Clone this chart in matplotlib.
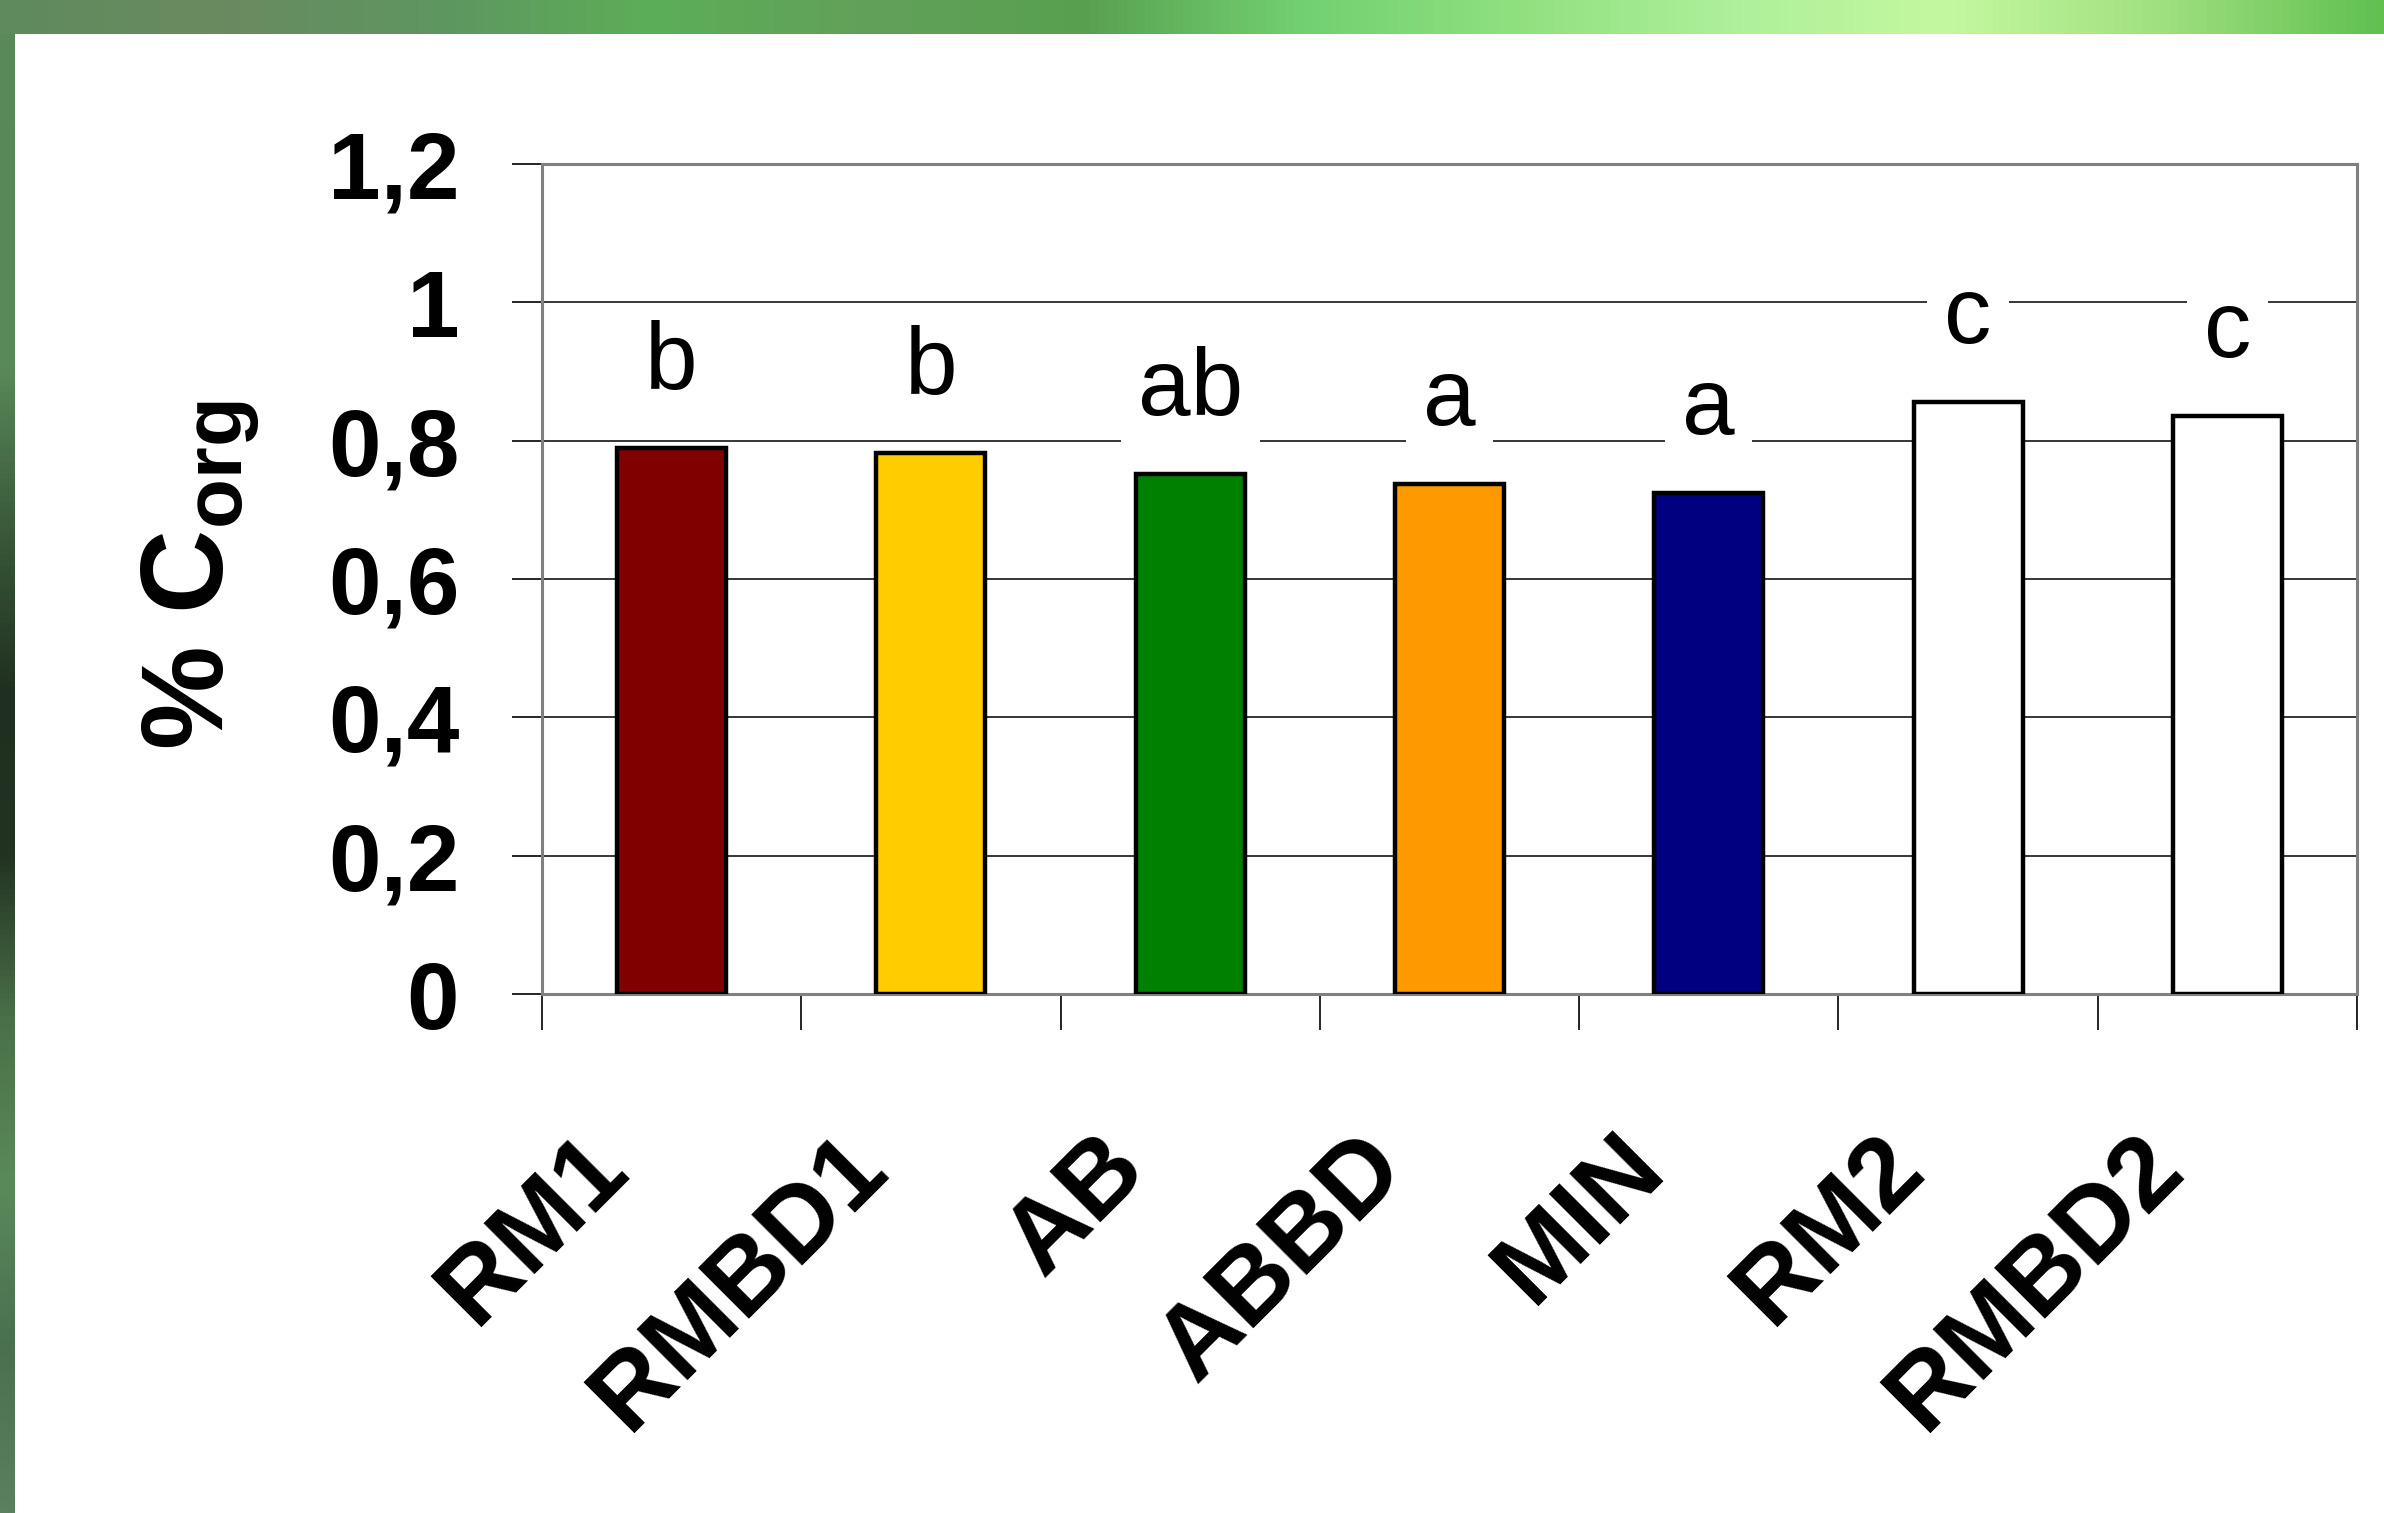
import matplotlib
matplotlib.use("Agg")
import matplotlib.pyplot as plt
import numpy as np
from matplotlib.colors import LinearSegmentedColormap
from matplotlib.ticker import FuncFormatter
from matplotlib.transforms import ScaledTranslation

plt.rcParams["font.family"] = ["Liberation Sans", "DejaVu Sans"]
plt.rcParams["font.weight"] = "bold"
plt.rcParams["mathtext.fontset"] = "custom"
plt.rcParams["mathtext.rm"] = "Liberation Sans"
plt.rcParams["mathtext.bf"] = "Liberation Sans:bold"

# data
treatments = ["RM1", "RMBD1", "AB", "ABBD", "MIN", "RM2", "RMBD2"]
corg = [0.789, 0.782, 0.752, 0.737, 0.724, 0.856, 0.836]
letters = ["b", "b", "ab", "a", "a", "c", "c"]
bar_colors = ["#800000", "#FFCC00", "#008000", "#FF9900", "#000080", "white", "white"]
y_ticks = [0, 0.2, 0.4, 0.6, 0.8, 1.0, 1.2]

W, H = 2384, 1513
fig = plt.figure(figsize=(W / 100, H / 100), dpi=100)
fig.patch.set_facecolor("white")

# green slide border (top and left)
top_cmap = LinearSegmentedColormap.from_list("top", [
    "#5f8a5e", "#6a8a60", "#5e9660", "#5cae58", "#62a05a", "#58a050",
    "#72d070", "#90e080", "#aef09a", "#c4f8a0", "#a0e080", "#60c050"])
left_cmap = LinearSegmentedColormap.from_list("left", [
    "#5a8a5a", "#588858", "#5a8a5a", "#3a5a3a", "#203020", "#223322",
    "#4a7048", "#5a8a5a", "#4a7050", "#5a8060"])
band = np.linspace(0, 1, 256)
ax_top = fig.add_axes([0, 1 - 34 / H, 1, 34 / H])
ax_top.imshow(band[None, :], aspect="auto", cmap=top_cmap)
ax_top.axis("off")
ax_left = fig.add_axes([0, 0, 15 / W, 1 - 34 / H])
ax_left.imshow(band[:, None], aspect="auto", cmap=left_cmap)
ax_left.axis("off")

ax = fig.add_axes([542 / W, 1 - 994 / H, (2357 - 542) / W, (994 - 164) / H])
x = np.arange(len(treatments)) + 0.5

ax.bar(x, corg, width=0.42, color=bar_colors, edgecolor="black",
       linewidth=3.2, zorder=3)

for xi, v, lab in zip(x, corg, letters):
    ax.text(xi, v + 0.085, lab, ha="center", va="baseline", fontsize=68,
            fontweight="normal", zorder=4,
            bbox=dict(boxstyle="square,pad=0.18", fc="white", ec="none"))

ax.set_xlim(0, len(treatments))
ax.set_ylim(0, 1.2)
ax.set_yticks(y_ticks)
ax.yaxis.set_major_formatter(FuncFormatter(lambda v, p: f"{v:g}".replace(".", ",")))
ax.yaxis.grid(True, color="black", linewidth=1.1, zorder=0)
ax.set_axisbelow(True)
ax.tick_params(axis="y", length=21.6, width=1.2, direction="out", pad=38,
               labelsize=68)

ax.set_xticks(x)
ax.set_xticklabels(treatments, rotation=45, ha="right", va="center",
                   rotation_mode="anchor", fontsize=75)
ax.tick_params(axis="x", which="major", length=0, pad=114)
shift = ScaledTranslation(-60 / 100, 0, fig.dpi_scale_trans)
for lab in ax.get_xticklabels():
    lab.set_transform(lab.get_transform() + shift)
ax.set_xticks(np.arange(len(treatments) + 1), minor=True)
ax.tick_params(axis="x", which="minor", length=26, width=1.2, direction="out")

for s in ax.spines.values():
    s.set_color("#808080")
    s.set_linewidth(2.2)

ax.set_ylabel(r"% C$_{\mathbf{org}}$", fontsize=84, fontweight="bold")
ax.yaxis.set_label_coords(-0.155, 0.505)

fig.savefig("out.png", dpi=100)
